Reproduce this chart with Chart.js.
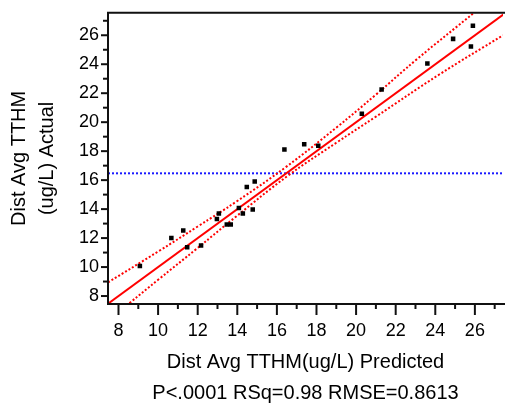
<!DOCTYPE html>
<html>
<head>
<meta charset="utf-8">
<script src="https://cdn.jsdelivr.net/npm/chart.js@4"></script>
<style>
  html, body { margin: 0; padding: 0; background: #fff; }
  #caja { width: 507px; height: 411px; }
</style>
</head>
<body>
<div id="caja"><canvas id="grafico" width="507" height="411"></canvas></div>
<script>
// values
const predicted = [9.08, 10.67, 11.27, 11.47, 12.17, 12.97, 13.07, 13.47, 13.67, 14.08, 14.28, 14.48,
  14.78, 14.88, 16.38, 17.38, 18.09, 20.29, 21.29, 23.60, 24.90, 25.80, 25.90];
const actual = [10.07, 12.01, 12.53, 11.36, 11.49, 13.32, 13.70, 12.93, 12.93, 14.08, 13.70, 15.53,
  13.97, 15.91, 18.12, 18.48, 18.37, 20.58, 22.25, 24.05, 25.75, 25.23, 26.65];

const fitX = [7.45, 27.45];
const fitY = [7.45, 27.45];
const upperX = [7.47, 10, 12, 14, 16.5, 19, 21, 23.1, 26.03, 27.42];
const upperY = [8.94, 11.07, 12.8, 14.56, 16.95, 19.62, 21.9, 24.38, 27.63, 29.2];
const lowerX = [7.47, 8.58, 10, 12, 14, 16.5, 19, 21, 24.2, 27.42];
const lowerY = [6.27, 7.54, 9.12, 11.32, 13.55, 16.25, 18.58, 20.38, 23.29, 26.0];
const meanActual = 16.47;

const xRange = [7.47, 27.42];
const yRange = [7.45, 27.55];
const xTitle = 'Dist Avg TTHM(ug/L) Predicted';
const statsLine = 'P<.0001 RSq=0.98 RMSE=0.8613';
const yTitle = ['Dist Avg TTHM', '(ug/L) Actual'];

const fam = '"Liberation Sans", Arial, sans-serif';
const pares = (xs, ys) => xs.map((v, i) => ({x: v, y: ys[i]}));

// marcas mayores y menores + marco
const marcas = {
  id: 'marcas',
  afterDraw(chart) {
    const {ctx, chartArea: a, scales: {x, y}} = chart;
    ctx.save();
    ctx.strokeStyle = '#111';
    ctx.lineWidth = 2;
    x.ticks.forEach(t => {
      const px = x.getPixelForValue(t.value);
      const len = t.value % 2 === 0 ? 11 : 5;
      ctx.beginPath(); ctx.moveTo(px, a.bottom); ctx.lineTo(px, a.bottom + len); ctx.stroke();
    });
    y.ticks.forEach(t => {
      const py = y.getPixelForValue(t.value);
      const len = t.value % 2 === 0 ? 7 : 5;
      ctx.beginPath(); ctx.moveTo(a.left, py); ctx.lineTo(a.left - len, py); ctx.stroke();
    });
    ctx.beginPath();
    ctx.moveTo(a.right + 2, a.top);
    ctx.lineTo(a.left, a.top);
    ctx.lineTo(a.left, a.bottom);
    ctx.lineTo(a.right + 2, a.bottom);
    ctx.stroke();
    ctx.restore();
  }
};

const graph = new Chart(document.getElementById('grafico').getContext('2d'), {
  type: 'scatter',
  data: {
    datasets: [{
      label: 'Actual',
      data: pares(predicted, actual),
      pointStyle: 'rect',
      pointRadius: 3.2,
      pointBorderWidth: 0,
      backgroundColor: '#000',
      borderColor: '#000'
    }, {
      label: 'Fit',
      data: pares(fitX, fitY),
      showLine: true,
      pointRadius: 0,
      borderColor: '#ff0000',
      borderWidth: 2
    }, {
      label: 'Upper',
      data: pares(upperX, upperY),
      showLine: true,
      pointRadius: 0,
      tension: 0.4,
      borderColor: '#ff0000',
      borderWidth: 2,
      borderDash: [2, 2]
    }, {
      label: 'Lower',
      data: pares(lowerX, lowerY),
      showLine: true,
      pointRadius: 0,
      tension: 0.4,
      borderColor: '#ff0000',
      borderWidth: 2,
      borderDash: [2, 2]
    }, {
      label: 'Mean',
      data: pares(xRange, [meanActual, meanActual]),
      showLine: true,
      pointRadius: 0,
      borderColor: '#1a1aff',
      borderWidth: 2,
      borderDash: [2, 2]
    }]
  },
  options: {
    responsive: false,
    animation: false,
    devicePixelRatio: 1,
    layout: {padding: {top: 7, right: 0, left: 0, bottom: 0}},
    plugins: {legend: {display: false}, tooltip: {enabled: false}},
    scales: {
      x: {
        type: 'linear',
        min: xRange[0],
        max: xRange[1],
        afterFit: s => { s.height = 107; },
        grid: {display: false, drawTicks: true, tickLength: 11},
        border: {display: false},
        ticks: {
          stepSize: 1,
          includeBounds: false,
          autoSkip: false,
          maxRotation: 0,
          padding: 5,
          color: '#000',
          font: {family: fam, size: 18, lineHeight: 1.2},
          callback: v => v % 2 === 0 ? String(v) : ''
        },
        title: {
          display: true,
          text: [xTitle, statsLine],
          color: '#000',
          font: {family: fam, size: 20, lineHeight: 1.55},
          padding: {top: 0, bottom: 2}
        }
      },
      y: {
        type: 'linear',
        min: yRange[0],
        max: yRange[1],
        afterFit: s => { s.width = 108; },
        grid: {display: false, drawTicks: true, tickLength: 7},
        border: {display: false},
        ticks: {
          stepSize: 1,
          includeBounds: false,
          autoSkip: false,
          padding: 2,
          color: '#000',
          font: {family: fam, size: 18, lineHeight: 1.2},
          callback: v => v % 2 === 0 ? String(v) : ''
        },
        title: {
          display: true,
          text: yTitle,
          color: '#000',
          font: {family: fam, size: 20, lineHeight: 1.4},
          padding: {top: 5, bottom: 0}
        }
      }
    }
  },
  plugins: [marcas]
});
</script>
</body>
</html>
